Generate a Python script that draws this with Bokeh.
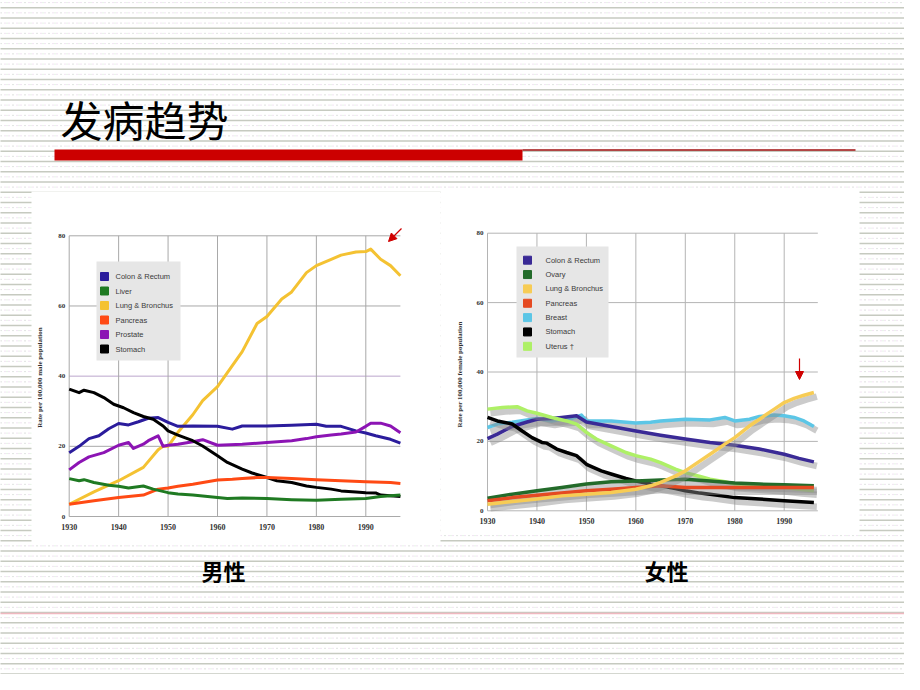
import numpy as np
from bokeh.plotting import figure
from bokeh.models import Range1d, Arrow, NormalHead
from bokeh.core.properties import value
from bokeh.transform import dodge
from bokeh.embed import file_html
from bokeh.resources import INLINE

# ---------------- text ----------------
slide_title = "发病趋势"
male_caption = "男性"
female_caption = "女性"
male_ylabel = "Rate per 100,000 male population"
female_ylabel = "Rate per 100,000 female population"

# ---------------- axes ----------------
year_ticks = [1930, 1940, 1950, 1960, 1970, 1980, 1990]
rate_ticks = [0, 20, 40, 60, 80]

# ---------------- male data ----------------
male_names = ["Colon & Rectum", "Liver", "Lung & Bronchus", "Pancreas", "Prostate", "Stomach"]
male_colors = ["#2b1c9c", "#1f7a22", "#f4c232", "#ff4a14", "#8c14b4", "#000000"]

m_colon_years = [1930, 1932, 1934, 1936, 1938, 1940, 1942, 1944, 1946, 1948, 1950, 1952, 1955, 1960, 1963,
                 1965, 1970, 1975, 1980, 1982, 1985, 1988, 1990, 1992, 1995, 1997]
m_colon = [18.2, 20.0, 22.2, 23.0, 25.0, 26.5, 26.1, 27.0, 28.0, 28.2, 26.8, 25.7, 25.8, 25.7, 24.9,
           25.8, 25.8, 26.0, 26.3, 25.7, 25.7, 24.4, 23.8, 23.0, 22.0, 20.9]

m_liver_years = [1930, 1932, 1933, 1935, 1938, 1940, 1942, 1945, 1947, 1950, 1952, 1955, 1960, 1962, 1965,
                 1970, 1975, 1980, 1985, 1990, 1993, 1997]
m_liver = [10.8, 10.2, 10.5, 9.7, 8.9, 8.6, 8.1, 8.7, 7.8, 6.8, 6.4, 6.1, 5.4, 5.1, 5.3,
           5.1, 4.8, 4.6, 4.9, 5.1, 5.7, 6.1]

m_lung_years = [1930, 1935, 1940, 1945, 1948, 1949, 1950, 1952, 1955, 1957, 1960, 1965, 1968, 1970, 1973,
                1975, 1978, 1980, 1983, 1985, 1988, 1990, 1991, 1993, 1995, 1997]
m_lung = [3.5, 7.0, 10.2, 14.0, 19.0, 20.0, 20.0, 24.0, 29.0, 33.0, 37.0, 47.0, 55.0, 57.0, 62.0,
          64.0, 69.5, 71.5, 73.3, 74.5, 75.4, 75.5, 76.2, 73.3, 71.5, 68.6]

m_panc_years = [1930, 1935, 1940, 1945, 1948, 1950, 1952, 1955, 1960, 1963, 1965, 1968, 1970, 1975, 1980,
                1985, 1990, 1995, 1997]
m_panc = [3.5, 4.5, 5.4, 6.1, 7.8, 8.1, 8.6, 9.2, 10.4, 10.6, 10.8, 11.1, 11.1, 10.8, 10.5,
          10.2, 9.9, 9.7, 9.4]

m_prost_years = [1930, 1932, 1934, 1937, 1940, 1942, 1943, 1945, 1946, 1948, 1949, 1950, 1952, 1955, 1957,
                 1960, 1965, 1970, 1975, 1978, 1980, 1983, 1985, 1988, 1990, 1991, 1993, 1995, 1997]
m_prost = [13.3, 15.4, 17.0, 18.2, 20.3, 21.1, 19.4, 20.6, 21.6, 23.0, 20.0, 20.3, 20.6, 21.3, 21.9,
           20.3, 20.6, 21.1, 21.6, 22.2, 22.7, 23.2, 23.5, 24.1, 25.7, 26.6, 26.6, 25.8, 23.9]

m_stom_years = [1930, 1932, 1933, 1935, 1937, 1939, 1941, 1943, 1945, 1947, 1949, 1950, 1952, 1955, 1957,
                1960, 1962, 1965, 1967, 1970, 1972, 1975, 1978, 1980, 1983, 1985, 1988, 1990, 1992, 1993,
                1995, 1997]
m_stom = [36.3, 35.3, 36.0, 35.3, 33.9, 32.0, 31.0, 29.6, 28.5, 27.7, 25.8, 24.4, 23.2, 21.6, 20.1,
          17.3, 15.4, 13.5, 12.4, 11.1, 10.2, 9.7, 8.7, 8.3, 7.8, 7.3, 7.0, 6.8, 6.7, 6.1,
          5.9, 5.7]

male_years = [m_colon_years, m_liver_years, m_lung_years, m_panc_years, m_prost_years, m_stom_years]
male_values = [m_colon, m_liver, m_lung, m_panc, m_prost, m_stom]
male_draw_order = [2, 0, 4, 5, 3, 1]

# ---------------- female data ----------------
female_names = ["Colon & Rectum", "Ovary", "Lung & Bronchus", "Pancreas", "Breast", "Stomach", "Uterus \u2020"]
female_colors = ["#3a2a96", "#236b2a", "#f7cc55", "#e54a22", "#5cc6e6", "#000000", "#aef066"]

f_colon_years = [1930, 1932, 1935, 1938, 1940, 1943, 1945, 1948, 1950, 1955, 1960, 1965, 1970, 1975, 1980,
                 1985, 1990, 1993, 1996]
f_colon = [20.8, 22.1, 24.3, 25.6, 26.4, 26.6, 26.9, 27.4, 25.6, 24.3, 23.0, 21.8, 20.7, 19.7, 18.9,
           17.8, 16.3, 15.1, 14.1]

f_ovary_years = [1930, 1935, 1940, 1945, 1950, 1955, 1960, 1965, 1970, 1975, 1980, 1985, 1990, 1996]
f_ovary = [3.6, 4.8, 5.8, 6.7, 7.7, 8.4, 8.6, 8.9, 9.1, 8.6, 8.0, 7.7, 7.5, 7.2]

f_lung_years = [1930, 1940, 1945, 1950, 1955, 1960, 1963, 1965, 1968, 1970, 1973, 1975, 1978, 1980, 1983,
                1985, 1988, 1990, 1992, 1994, 1996]
f_lung = [1.9, 3.4, 4.3, 4.8, 5.3, 6.2, 7.2, 8.2, 10.0, 11.5, 14.4, 16.3, 19.2, 21.1, 24.5,
          26.4, 29.3, 31.2, 32.4, 33.3, 34.1]

f_panc_years = [1930, 1935, 1940, 1945, 1950, 1955, 1960, 1965, 1970, 1975, 1980, 1985, 1990, 1996]
f_panc = [2.9, 3.8, 4.5, 5.1, 5.8, 6.2, 6.7, 7.2, 6.7, 6.7, 6.7, 6.7, 6.7, 6.7]

f_breast_years = [1930, 1932, 1935, 1938, 1940, 1943, 1945, 1947, 1949, 1950, 1955, 1960, 1963, 1965, 1970,
                  1975, 1978, 1980, 1983, 1985, 1988, 1990, 1992, 1994, 1996]
f_breast = [24.0, 25.0, 25.5, 26.2, 26.6, 25.9, 26.4, 26.6, 27.6, 25.9, 25.9, 25.3, 25.5, 25.9, 26.4,
            26.2, 26.9, 25.9, 26.4, 27.2, 27.6, 27.4, 26.9, 25.9, 24.3]

f_stom_years = [1930, 1932, 1935, 1937, 1939, 1941, 1942, 1944, 1946, 1948, 1950, 1953, 1955, 1958, 1960,
                1963, 1965, 1968, 1970, 1973, 1975, 1980, 1985, 1990, 1996]
f_stom = [26.9, 25.9, 25.0, 23.0, 21.1, 19.7, 19.5, 17.8, 16.8, 15.9, 13.4, 11.5, 10.6, 9.3, 8.6,
          7.7, 7.2, 6.4, 5.8, 5.1, 4.8, 3.8, 3.4, 2.9, 2.4]

f_uterus_years = [1930, 1933, 1936, 1938, 1940, 1943, 1946, 1948, 1950, 1952, 1955, 1958, 1960, 1963, 1965,
                  1968, 1970, 1973, 1975, 1978, 1980, 1985, 1990, 1993, 1996]
f_uterus = [29.3, 29.8, 30.0, 28.8, 28.1, 26.9, 25.9, 25.0, 22.6, 20.7, 18.7, 16.8, 15.9, 14.9, 13.9,
            12.0, 11.0, 9.9, 9.1, 8.4, 7.7, 7.2, 6.7, 6.2, 5.8]

female_years = [f_colon_years, f_ovary_years, f_lung_years, f_panc_years, f_breast_years, f_stom_years, f_uterus_years]
female_values = [f_colon, f_ovary, f_lung, f_panc, f_breast, f_stom, f_uterus]
female_draw_order = [4, 0, 6, 5, 1, 3, 2]

# ---------------- layout (page pixels) ----------------
W, H = 904, 674
X0, X1 = 8, 8 + W
Y0, Y1 = 8, 8 + H

p = figure(width=W, height=H, output_backend="svg", toolbar_location=None,
           x_range=Range1d(X0, X1), y_range=Range1d(Y1, Y0),
           x_axis_location=None, y_axis_location=None, min_border=0,
           background_fill_color="white", border_fill_color="white", outline_line_color=None)
p.grid.visible = False


def chart_ranges(px_a, px_b, yr_a, yr_b, py_zero, py_80):
    sx = (yr_b - yr_a) / (px_b - px_a)
    xr = Range1d(yr_a + (X0 - px_a) * sx, yr_a + (X1 - px_a) * sx)
    sy = 80.0 / (py_zero - py_80)
    yr = Range1d((py_zero - Y1) * sy, (py_zero - Y0) * sy)
    return xr, yr


mx, my = chart_ranges(76.7, 373.3, 1930, 1990, 524.0, 243.3)
fx, fy = chart_ranges(495.0, 791.7, 1930, 1990, 518.3, 240.7)
p.extra_x_ranges = {"mx": mx, "fx": fx}
p.extra_y_ranges = {"my": my, "fy": fy}

# ---------------- slide background stripes ----------------
stripe_y = np.arange(5.0, 700.0, 10.25)
p.segment(x0=0, x1=920, y0=stripe_y, y1=stripe_y, line_color="#c6cac0", line_width=1.3)
p.segment(x0=0, x1=920, y0=stripe_y + 5.1, y1=stripe_y + 5.1, line_color="#e3c8e6",
          line_width=1, line_dash="1 3")
p.segment(x0=2, x1=920, y0=stripe_y + 5.1, y1=stripe_y + 5.1, line_color="#cfe8cf",
          line_width=1, line_dash="1 5")

# white picture areas
p.quad(left=39, right=448, top=199, bottom=552, fill_color="white", line_color=None)
p.quad(left=448, right=867, top=196, bottom=541, fill_color="white", line_color=None)

# footer line
p.segment(x0=0, x1=920, y0=621, y1=621, line_color="#f0b8c0", line_width=1.3)

# ---------------- title ----------------
p.text(x=[68], y=[126], text=[slide_title], text_font=value("Noto Sans CJK SC"),
       text_font_size="42px", text_baseline="middle", text_align="left", text_color="#000000")
p.quad(left=62, right=530, top=157, bottom=168, fill_color="#cc0000", line_color=None)
p.segment(x0=530, x1=863, y0=157.5, y1=157.5, line_color="#a01010", line_width=1.5)


# ---------------- chart helper ----------------
def draw_chart(xn, yn, x_end, grid_color, mid_color, names, colors, years, values, order,
               shadow, lw, ylabel, ylabel_x, ylabel_y, label_dy, legend_box, legend_marker_x,
               legend_text_x, legend_y0, legend_step):
    kw = dict(x_range_name=xn, y_range_name=yn)
    # horizontal grid
    for v in rate_ticks:
        col = mid_color if v == 40 else grid_color
        p.segment(x0=[year_ticks[0]], x1=[x_end], y0=[v], y1=[v], line_color=col, line_width=1, **kw)
    # vertical grid / axis
    p.segment(x0=year_ticks, x1=year_ticks, y0=[rate_ticks[0]] * len(year_ticks),
              y1=[rate_ticks[-1]] * len(year_ticks), line_color=grid_color, line_width=1, **kw)
    # tick labels
    p.text(x=year_ticks, y=[rate_ticks[0]] * len(year_ticks), text=[str(t) for t in year_ticks],
           y_offset=label_dy, text_align="center", text_baseline="middle",
           text_font=value("Liberation Serif"), text_font_style="bold", text_font_size="8px",
           text_color="#333333", **kw)
    p.text(x=[year_ticks[0]] * len(rate_ticks), y=rate_ticks, text=[str(t) for t in rate_ticks],
           x_offset=-4, text_align="right", text_baseline="middle",
           text_font=value("Liberation Serif"), text_font_style="bold", text_font_size="7px",
           text_color="#333333", **kw)
    # series
    for i in order:
        if shadow:
            p.line(x=dodge("x", 0.6), y=dodge("y", -1.2),
                   source=dict(x=years[i], y=values[i]),
                   line_color="#8c8c8c", line_alpha=0.45, line_width=lw + 3, line_join="round", **kw)
        p.line(x=years[i], y=values[i], line_color=colors[i], line_width=lw, line_join="round", **kw)
    # y title
    p.text(x=[ylabel_x], y=[ylabel_y], text=[ylabel], angle=np.pi / 2, text_align="center",
           text_baseline="middle", text_font=value("Liberation Serif"), text_font_style="bold",
           text_font_size="7px", text_color="#333333")
    # legend
    l, r, t, b = legend_box
    p.quad(left=l, right=r, top=t, bottom=b, fill_color="#e6e6e6", line_color=None)
    ly = [legend_y0 + k * legend_step for k in range(len(names))]
    p.scatter(x=[legend_marker_x] * len(names), y=ly, marker="square", size=8,
              fill_color=colors, line_color=colors)
    p.text(x=[legend_text_x] * len(names), y=ly, text=names, text_align="left",
           text_baseline="middle", text_font=value("Liberation Sans"), text_font_size="7.5px",
           text_color="#3a3a3a")


draw_chart("mx", "my", 1997, "#a9a9a9", "#bba6cc", male_names, male_colors, male_years, male_values,
           male_draw_order, False, 3, male_ylabel, 47, 385, 10, (104, 188, 269, 368), 112, 123, 284, 14.5)
draw_chart("fx", "fy", 1996.8, "#b4b4b4", "#b4b4b4", female_names, female_colors, female_years,
           female_values, female_draw_order, True, 3.5, female_ylabel, 467, 382, 10,
           (524, 616, 254, 365), 535, 553, 267.7, 14.35)

# ---------------- arrows ----------------
p.add_layout(Arrow(end=NormalHead(size=8, fill_color="#d00000", line_color="#d00000"),
                   x_start=409, y_start=236, x_end=396, y_end=249,
                   line_color="#d00000", line_width=1.2))
p.add_layout(Arrow(end=NormalHead(size=8, fill_color="#d00000", line_color="#d00000"),
                   x_start=807, y_start=366, x_end=807, y_end=387,
                   line_color="#d00000", line_width=1.2))

# ---------------- captions ----------------
p.text(x=[231, 674], y=[577, 577], text=[male_caption, female_caption],
       text_font=value("Noto Sans CJK SC"), text_font_style="bold", text_font_size="22px",
       text_align="center", text_baseline="middle", text_color="#000000")

open("out.html", "w").write(file_html(p, INLINE))
